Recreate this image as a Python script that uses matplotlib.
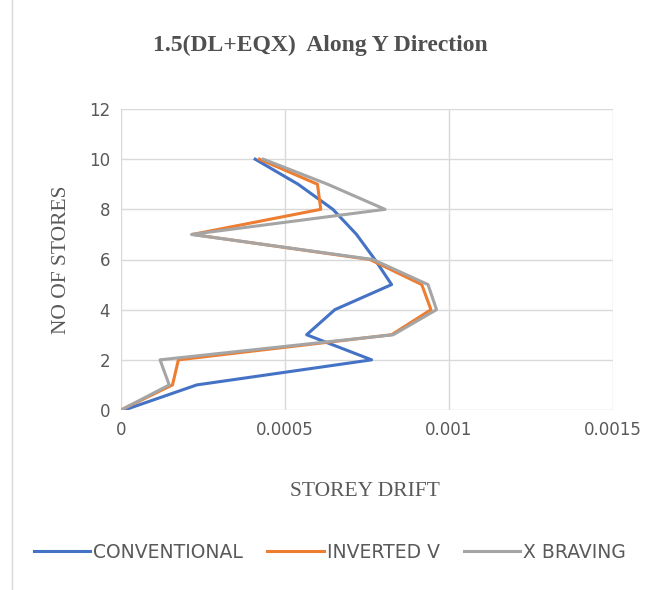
import matplotlib
matplotlib.use("Agg")
import matplotlib.pyplot as plt
from matplotlib.lines import Line2D

stories = [0, 1, 2, 3, 4, 5, 6, 7, 8, 9, 10]
conventional = [0.00001, 0.000231, 0.000764, 0.000566, 0.000652, 0.000825, 0.000774, 0.000718, 0.000646, 0.000540, 0.000409]
inverted_v = [0.0, 0.000157, 0.000175, 0.000825, 0.000945, 0.000917, 0.000759, 0.000218, 0.000609, 0.000599, 0.000422]
x_braving = [0.0, 0.000147, 0.000119, 0.000830, 0.000962, 0.000936, 0.000768, 0.000215, 0.000805, 0.000630, 0.000434]
x_ticks = [0, 0.0005, 0.001, 0.0015]
x_tick_labels = ["0", "0.0005", "0.001", "0.0015"]
y_ticks = [0, 2, 4, 6, 8, 10, 12]

fig = plt.figure(figsize=(6.6, 5.9), dpi=100)
ax = fig.add_axes([121/660, 1-410/590, (613-121)/660, (410-109)/590])

ax.plot(conventional, stories, color="#4472C4", lw=2.2, label="CONVENTIONAL")
ax.plot(inverted_v, stories, color="#ED7D31", lw=2.2, label="INVERTED V")
ax.plot(x_braving, stories, color="#A5A5A5", lw=2.2, label="X BRAVING")

ax.set_xlim(0, 0.0015)
ax.set_ylim(0, 12)
ax.set_xticks(x_ticks)
ax.set_xticklabels(x_tick_labels)
ax.set_yticks(y_ticks)
ax.grid(True, color="#D9D9D9", lw=1)
ax.set_axisbelow(True)
for s in ax.spines.values():
    s.set_visible(False)
ax.tick_params(length=0, labelsize=12, labelcolor="#595959", pad=8)

serif = ["Liberation Serif", "DejaVu Serif"]
fig.text(320/660, 1-45/590, "1.5(DL+EQX)  Along Y Direction", ha="center", va="center",
         fontsize=17, fontweight="bold", color="#505050", family=serif)
fig.text(365/660, 1-492/590, "STOREY DRIFT", ha="center", va="center",
         fontsize=15.5, color="#595959", family=serif)
fig.text(62/660, 1-260/590, "NO OF STORES", ha="center", va="center", rotation=90,
         fontsize=15.5, color="#595959", family=serif)

leg = fig.legend(loc="center", bbox_to_anchor=(330/660, 1-552/590), ncol=3, frameon=False,
                 prop={"size": 13.5},
                 handlelength=3.0, handletextpad=0.15, columnspacing=1.3)
for t in leg.get_texts():
    t.set_color("#595959")

fig.add_artist(Line2D([12/660, 12/660], [0, 1], color="#D9D9D9", lw=1))

fig.savefig("out.png", dpi=100)
